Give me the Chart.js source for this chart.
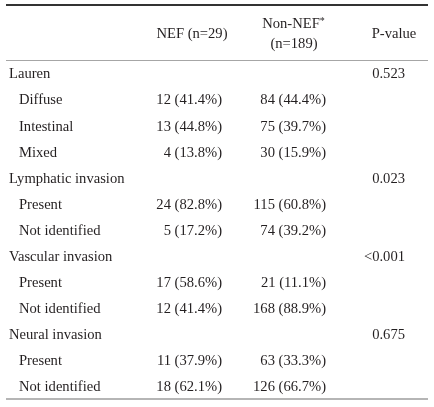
<!DOCTYPE html>
<html>
<head>
<meta charset="utf-8">
<script src="https://cdn.jsdelivr.net/npm/chart.js@4"></script>
<style>
  html, body { margin: 0; padding: 0; background: #fff; }
  #wrap { width: 434px; height: 407px; }
</style>
</head>
<body>
<div id="wrap"><canvas id="tableChart" width="434" height="407"></canvas></div>
<script>
// table rows
const rowLabels = ['Lauren', 'Diffuse', 'Intestinal', 'Mixed',
  'Lymphatic invasion', 'Present', 'Not identified',
  'Vascular invasion', 'Present', 'Not identified',
  'Neural invasion', 'Present', 'Not identified'];
const rowIsGroup = [true, false, false, false, true, false, false, true, false, false, true, false, false];

const nefCounts = [null, 12, 13, 4, null, 24, 5, null, 17, 12, null, 11, 18];
const nefPct = [null, 41.4, 44.8, 13.8, null, 82.8, 17.2, null, 58.6, 41.4, null, 37.9, 62.1];
const nonNefCounts = [null, 84, 75, 30, null, 115, 74, null, 21, 168, null, 63, 126];
const nonNefPct = [null, 44.4, 39.7, 15.9, null, 60.8, 39.2, null, 11.1, 88.9, null, 33.3, 66.7];
const pValues = ['0.523', null, null, null, '0.023', null, null, '<0.001', null, null, '0.675', null, null];

const columnHeaders = [['NEF (n=29)'], ['Non-NEF*', '(n=189)'], ['P-value']];

// layout (pixels)
const FONT = '14.6px "Liberation Serif", "DejaVu Serif", serif';
const TEXT = '#231f20';
const colX = { group: 9, sub: 19, nefRight: 222, nonNefRight: 326, pRight: 405 };
const headerX = [192, 294, 394];

const cellFmt = (n, p) => n == null ? '' : n + ' (' + p.toFixed(1) + '%)';

const tablePlugin = {
  id: 'tableText',
  afterDraw(chart) {
    const ctx = chart.ctx;
    const area = chart.chartArea;
    const y = chart.scales.y;
    ctx.save();

    // rules
    ctx.fillStyle = '#333';
    ctx.fillRect(6, 4, 422, 2);
    ctx.fillStyle = '#a6a6a6';
    ctx.fillRect(6, area.top - 1, 422, 1);
    ctx.fillStyle = '#b5b5b5';
    ctx.fillRect(6, area.bottom - 2, 422, 2);

    ctx.font = FONT;
    ctx.fillStyle = TEXT;
    ctx.textBaseline = 'middle';

    // header
    ctx.textAlign = 'center';
    ctx.fillText(columnHeaders[0][0], headerX[0], 34);
    ctx.fillText(columnHeaders[2][0], headerX[2], 34);
    const nn = columnHeaders[1][0].replace('*', '');
    const w = ctx.measureText(nn).width;
    ctx.textAlign = 'left';
    ctx.fillText(nn, headerX[1] - w / 2 - 3, 24);
    ctx.font = '10px "Liberation Serif", serif';
    ctx.fillText('*', headerX[1] + w / 2 - 3, 21);
    ctx.font = FONT;
    ctx.textAlign = 'center';
    ctx.fillText(columnHeaders[1][1], headerX[1], 44);

    // body
    rowLabels.forEach((lab, i) => {
      const py = y.getPixelForValue(i) + 0.5;
      ctx.textAlign = 'left';
      ctx.fillText(lab, rowIsGroup[i] ? colX.group : colX.sub, py);
      ctx.textAlign = 'right';
      ctx.fillText(cellFmt(nefCounts[i], nefPct[i]), colX.nefRight, py);
      ctx.fillText(cellFmt(nonNefCounts[i], nonNefPct[i]), colX.nonNefRight, py);
      if (pValues[i]) ctx.fillText(pValues[i], colX.pRight, py);
    });
    ctx.restore();
  }
};

new Chart(document.getElementById('tableChart'), {
  type: 'bar',
  data: {
    labels: rowLabels,
    datasets: [
      { label: 'NEF', data: nefCounts, backgroundColor: 'rgba(0,0,0,0)' },
      { label: 'Non-NEF', data: nonNefCounts, backgroundColor: 'rgba(0,0,0,0)' }
    ]
  },
  options: {
    indexAxis: 'y',
    responsive: false,
    animation: false,
    layout: { padding: { top: 61, bottom: 7, left: 0, right: 0 } },
    plugins: { legend: { display: false }, tooltip: { enabled: false } },
    scales: {
      x: { display: false, min: 0, max: 200 },
      y: { display: false, offset: true }
    }
  },
  plugins: [tablePlugin]
});
</script>
</body>
</html>
